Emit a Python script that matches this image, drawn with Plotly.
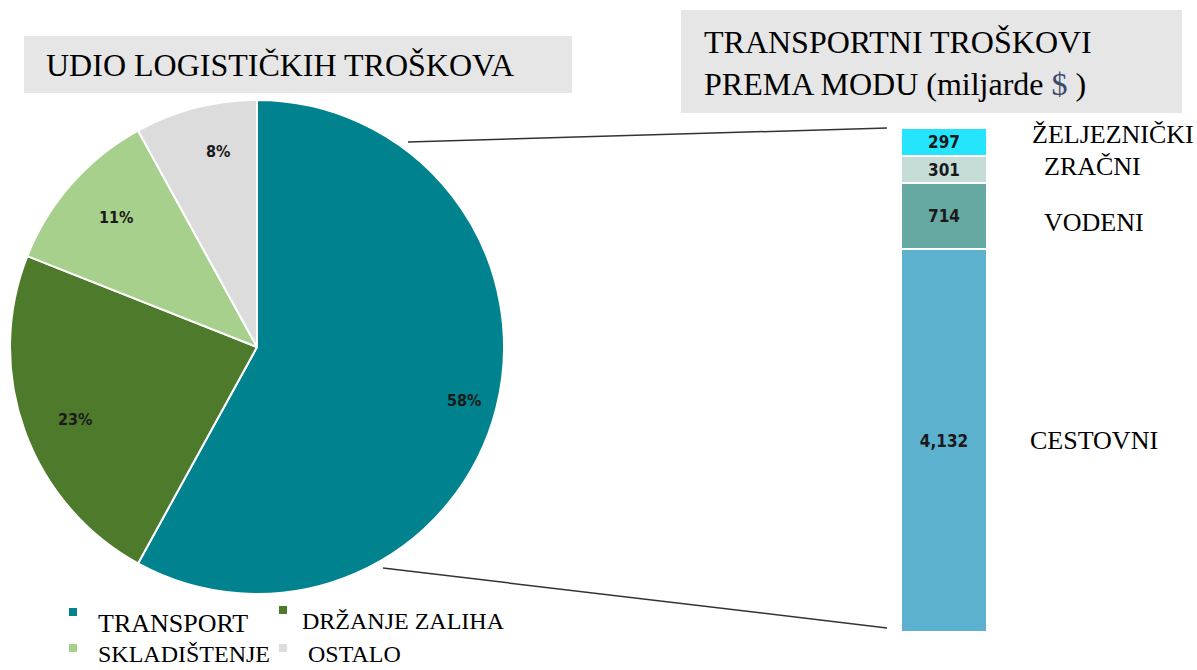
import math
import plotly.graph_objects as go

# pie: share of logistics costs (%)
cost_labels = ["TRANSPORT", "DRŽANJE ZALIHA", "SKLADIŠTENJE", "OSTALO"]
cost_shares = [58, 23, 11, 8]
cost_colors = ["#01838f", "#4e7a2b", "#a8d08d", "#dcdcdc"]

# stacked bar: transport costs by mode (billion $), bottom to top
mode_labels = ["CESTOVNI", "VODENI", "ZRAČNI", "ŽELJEZNIČKI"]
mode_values = [4132, 714, 301, 297]
mode_colors = ["#5cb1cf", "#66a8a2", "#c6ddd7", "#25e4fe"]

W, H = 1197, 670
SERIF = "Liberation Serif, Times New Roman, serif"
NARROW = "DejaVu Sans Condensed, Liberation Sans Narrow, DejaVu Sans, sans-serif"


def px(x, y):
    return x / W, 1 - y / H


fig = go.Figure()

# pie, starting at 12 o'clock, clockwise
pie_x0, pie_x1, pie_top, pie_bot = 10, 504, 100, 594
fig.add_trace(go.Pie(
    labels=cost_labels,
    values=cost_shares,
    marker=dict(colors=cost_colors, line=dict(color="white", width=2)),
    sort=False,
    direction="clockwise",
    rotation=0,
    textinfo="none",
    hoverinfo="label+percent",
    showlegend=False,
    domain=dict(x=[pie_x0 / W, pie_x1 / W], y=[1 - pie_bot / H, 1 - pie_top / H]),
))

# percentage labels near the rim
cx, cy = (pie_x0 + pie_x1) / 2, (pie_top + pie_bot) / 2
R = (pie_bot - pie_top) / 2
total = sum(cost_shares)
acc = 0
for share in cost_shares:
    mid = (acc + share / 2) / total * 2 * math.pi
    acc += share
    tx = cx + 0.865 * R * math.sin(mid)
    ty = cy - 0.865 * R * math.cos(mid)
    x, y = px(tx, ty)
    fig.add_annotation(x=x, y=y, xref="paper", yref="paper", text=f"<b>{share}%</b>",
                       showarrow=False, font=dict(family=NARROW, size=16, color="#1a1a1a"))

# stacked bar
for lab, val, col in zip(mode_labels, mode_values, mode_colors):
    fig.add_trace(go.Bar(
        x=[0], y=[val], name=lab,
        marker=dict(color=col, line=dict(color="white", width=2)),
        text=[val], texttemplate="<b>%{y:,}</b>", textposition="inside",
        insidetextanchor="middle", constraintext="none",
        textfont=dict(family=NARROW, size=17, color="#1a1a1a"),
        xaxis="x", yaxis="y", showlegend=False,
    ))

bar_x0, bar_x1, bar_top, bar_bot = 901, 987, 128, 632
fig.update_layout(
    barmode="stack", bargap=0,
    xaxis=dict(domain=[bar_x0 / W, bar_x1 / W], range=[-0.5, 0.5], visible=False),
    yaxis=dict(domain=[1 - bar_bot / H, 1 - bar_top / H], range=[0, sum(mode_values)],
               visible=False),
)

# mode labels right of the bar
label_x = [1028, 1042, 1042, 1030]
label_dy = [0, -6, 3, 7]
acc = 0
for lab, val, lx, dy in zip(mode_labels, mode_values, label_x, label_dy):
    fig.add_annotation(x=lx / W, xref="paper", xanchor="left", y=acc + val / 2, yref="y",
                       yshift=dy, text=lab, showarrow=False,
                       font=dict(family=SERIF, size=26, color="black"))
    acc += val

shapes = []
# title boxes
for x0, y0, x1, y1 in [(24, 36, 572, 93), (681, 10, 1182, 113)]:
    a, b = px(x0, y0)
    c, d = px(x1, y1)
    shapes.append(dict(type="rect", xref="paper", yref="paper", x0=a, y0=d, x1=c, y1=b,
                       fillcolor="#e6e6e6", line=dict(width=0), layer="below"))
# connector lines from pie to bar
for (x0, y0), (x1, y1) in [((408, 142), (887, 128)), ((383, 568), (887, 628))]:
    a, b = px(x0, y0)
    c, d = px(x1, y1)
    shapes.append(dict(type="line", xref="paper", yref="paper", x0=a, y0=b, x1=c, y1=d,
                       line=dict(color="#333", width=1.5)))

# legend squares + labels
leg_sq = [(73, 612), (283, 610), (73, 648), (283, 648)]
leg_txt = [(96, 623, 26), (300, 621, 24), (96, 654, 24), (306, 654, 24)]
for (sx, sy), (tx, ty, fs), lab, col in zip(leg_sq, leg_txt, cost_labels, cost_colors):
    a, b = px(sx - 4, sy - 4)
    c, d = px(sx + 4, sy + 4)
    shapes.append(dict(type="rect", xref="paper", yref="paper", x0=a, y0=d, x1=c, y1=b,
                       fillcolor=col, line=dict(width=0)))
    x, y = px(tx, ty)
    fig.add_annotation(x=x, y=y, xref="paper", yref="paper", xanchor="left", yanchor="middle",
                       text=lab, showarrow=False, font=dict(family=SERIF, size=fs, color="black"))

# titles
x, y = px(44, 65)
fig.add_annotation(x=x, y=y, xref="paper", yref="paper", xanchor="left", yanchor="middle",
                   text="UDIO LOGISTIČKIH TROŠKOVA", showarrow=False,
                   font=dict(family=SERIF, size=32, color="black"))
x, y = px(702, 63)
fig.add_annotation(x=x, y=y, xref="paper", yref="paper", xanchor="left", yanchor="middle",
                   text="TRANSPORTNI TROŠKOVI<br>PREMA MODU (miljarde <span style='color:#3b4a6b'>$</span> )",
                   showarrow=False, align="left",
                   font=dict(family=SERIF, size=32, color="black"))

fig.update_layout(
    width=W, height=H,
    margin=dict(l=0, r=0, t=0, b=0),
    paper_bgcolor="white", plot_bgcolor="white",
    shapes=shapes,
)

fig.write_html("out.html", config={"displayModeBar": False},
               post_script="document.body.style.margin='0px';")
